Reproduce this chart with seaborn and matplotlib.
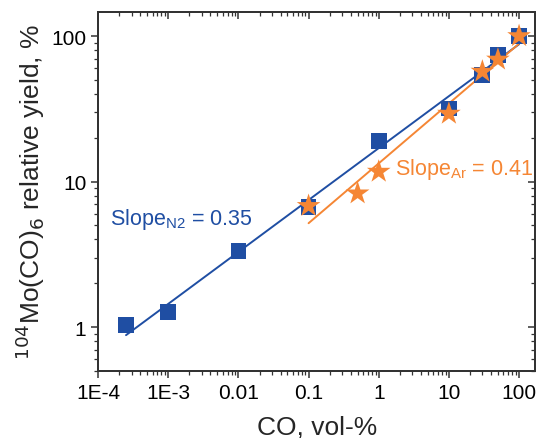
import numpy as np
import pandas as pd
import matplotlib
matplotlib.use("Agg")
import matplotlib.pyplot as plt
import seaborn as sns
from matplotlib.ticker import FixedLocator, FixedFormatter, LogLocator, NullFormatter

# N2 series (squares)
co_n2 = [2.5e-4, 1e-3, 0.01, 0.1, 1, 10, 30, 50, 100]
yield_n2 = [1.03, 1.27, 3.33, 6.7, 19.0, 31.8, 54.0, 74.0, 100.0]

# Ar series (stars)
co_ar = [0.1, 0.5, 1, 10, 30, 50, 100]
yield_ar = [6.8, 8.3, 11.7, 29.3, 57.0, 69.0, 100.0]

x_ticks = [1e-4, 1e-3, 0.01, 0.1, 1, 10, 100]
x_labels = ["1E-4", "1E-3", "0.01", "0.1", "1", "10", "100"]
y_ticks = [1, 10, 100]
y_labels = ["1", "10", "100"]

blue = "#1f4ea3"
orange = "#f58634"
dark = "#333333"

sns.set_style("ticks")
plt.rcParams["font.family"] = ["Liberation Sans", "DejaVu Sans"]

df_n2 = pd.DataFrame({"co": co_n2, "y": yield_n2})
df_ar = pd.DataFrame({"co": co_ar, "y": yield_ar})


def loglog_fit(df):
    k, b = np.polyfit(np.log10(df["co"]), np.log10(df["y"]), 1)
    xs = np.array([df["co"].min(), df["co"].max()])
    return pd.DataFrame({"co": xs, "y": 10 ** (b + k * np.log10(xs))})


def minor_loc():
    return LogLocator(base=10, subs=np.arange(2, 10), numticks=20)


fig = plt.figure(figsize=(5.39, 4.39), dpi=100)
ax = fig.add_axes([0.182, 0.153, 0.811, 0.817])
ax.set_xscale("log")
ax.set_yscale("log")

sns.lineplot(data=loglog_fit(df_n2), x="co", y="y", color=blue, lw=1.4, ax=ax)
sns.lineplot(data=loglog_fit(df_ar), x="co", y="y", color=orange, lw=1.4, ax=ax)
sns.scatterplot(data=df_n2, x="co", y="y", marker="s", s=130, color=blue,
                edgecolor="none", ax=ax, zorder=3)
sns.scatterplot(data=df_ar, x="co", y="y", marker="*", s=320, color=orange,
                edgecolor="none", ax=ax, zorder=4)

ax.set_xlim(1e-4, 170)
ax.set_ylim(0.5, 146)

ax.xaxis.set_major_locator(FixedLocator(x_ticks))
ax.xaxis.set_major_formatter(FixedFormatter(x_labels))
ax.xaxis.set_minor_locator(minor_loc())
ax.xaxis.set_minor_formatter(NullFormatter())
ax.yaxis.set_major_locator(FixedLocator(y_ticks))
ax.yaxis.set_major_formatter(FixedFormatter(y_labels))
ax.yaxis.set_minor_locator(minor_loc())
ax.yaxis.set_minor_formatter(NullFormatter())

ax.tick_params(which="major", direction="out", length=5, width=1.1,
               labelsize=15, colors=dark, labelcolor="black")
ax.tick_params(which="minor", direction="out", length=3, width=0.9, colors=dark)
for sp in ax.spines.values():
    sp.set_color(dark)
    sp.set_linewidth(1.2)

# mirrored inward ticks on top and right
tw = ax.twiny()
tw.set_xscale("log")
tw.set_xlim(ax.get_xlim())
tw.xaxis.set_major_locator(FixedLocator(x_ticks))
tw.xaxis.set_minor_locator(minor_loc())
tw.xaxis.set_major_formatter(NullFormatter())
tw.xaxis.set_minor_formatter(NullFormatter())
tw.tick_params(axis="x", which="major", direction="in", length=5, width=1.1, colors=dark)
tw.tick_params(axis="x", which="minor", direction="in", length=3, width=0.9, colors=dark)

ty = ax.twinx()
ty.set_yscale("log")
ty.set_ylim(ax.get_ylim())
ty.yaxis.set_major_locator(FixedLocator(y_ticks))
ty.yaxis.set_minor_locator(minor_loc())
ty.yaxis.set_major_formatter(NullFormatter())
ty.yaxis.set_minor_formatter(NullFormatter())
ty.tick_params(axis="y", which="major", direction="in", length=5, width=1.1, colors=dark)
ty.tick_params(axis="y", which="minor", direction="in", length=3, width=0.9, colors=dark)
for t in (tw, ty):
    for sp in t.spines.values():
        sp.set_color(dark)
        sp.set_linewidth(1.2)

ax.set_xlabel("CO, vol-%", fontsize=19, labelpad=9)
ax.set_ylabel(r"$^{104}$Mo(CO)$_6$ relative yield, %", fontsize=19, labelpad=3)

ax.text(1.5e-4, 5.6, r"Slope$_{\mathregular{N2}}$ = 0.35", color=blue, fontsize=15.5,
        va="center", ha="left")
ax.text(1.7, 12.3, r"Slope$_{\mathregular{Ar}}$ = 0.41", color=orange, fontsize=15.5,
        va="center", ha="left")

fig.savefig("out.png", dpi=100)
